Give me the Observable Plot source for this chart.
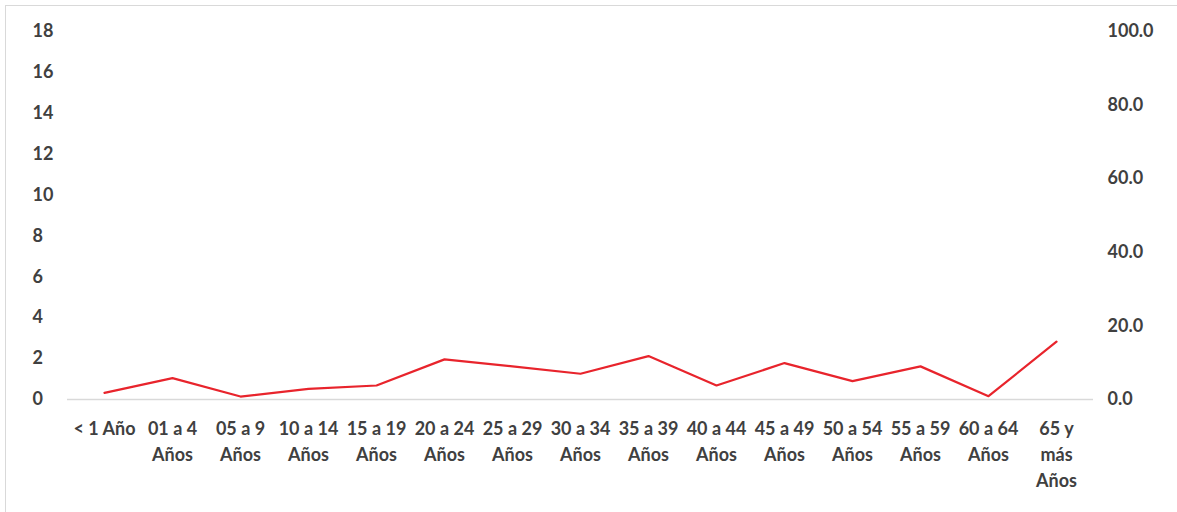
<!DOCTYPE html>
<html>
<head>
<meta charset="utf-8">
<script src="https://cdn.jsdelivr.net/npm/d3@7"></script>
<script src="https://cdn.jsdelivr.net/npm/@observablehq/plot@0.6"></script>
<style>
  html, body { margin: 0; padding: 0; background: #fff; }
  #frame { position: absolute; left: 5px; top: 5px; width: 1172px; height: 507px;
           border-top: 1px solid #d9d9d9; border-left: 1px solid #d9d9d9; }
  #chart { position: absolute; left: 0; top: 0; }
</style>
</head>
<body>
<div id="frame"></div>
<div id="chart"></div>
<script>
const categories = ["< 1 Año","01 a 4 Años","05 a 9 Años","10 a 14 Años","15 a 19 Años","20 a 24 Años","25 a 29 Años","30 a 34 Años","35 a 39 Años","40 a 44 Años","45 a 49 Años","50 a 54 Años","55 a 59 Años","60 a 64 Años","65 y más Años"];
const tickLabels = ["< 1 Año","01 a 4\nAños","05 a 9\nAños","10 a 14\nAños","15 a 19\nAños","20 a 24\nAños","25 a 29\nAños","30 a 34\nAños","35 a 39\nAños","40 a 44\nAños","45 a 49\nAños","50 a 54\nAños","55 a 59\nAños","60 a 64\nAños","65 y\nmás\nAños"];
const rates = [1.8, 5.8, 0.8, 2.9, 3.8, 10.9, 9.0, 7.0, 11.8, 3.8, 9.9, 5.0, 9.0, 0.9, 15.7];
const leftTicks = [0, 2, 4, 6, 8, 10, 12, 14, 16, 18];
const rightTicks = [0, 20, 40, 60, 80, 100];
const leftMax = 18;
const rightMax = 100;

const data = categories.map((c, i) => ({category: c, rate: rates[i]}));
const labelOf = new Map(categories.map((c, i) => [c, tickLabels[i]]));
const toRight = v => v * rightMax / leftMax;

const font = "Lato, 'Open Sans', sans-serif";
const textColor = "#404040";

const chart = Plot.plot({
  width: 1177,
  height: 512,
  marginTop: 31,
  marginBottom: 113,
  marginLeft: 67,
  marginRight: 84,
  style: {fontFamily: font, fontSize: "18px", fontWeight: "bold", color: textColor, background: "transparent"},
  x: {type: "point", domain: categories, padding: 0.5},
  y: {domain: [0, rightMax]},
  marks: [
    Plot.ruleY([0], {stroke: "#d9d9d9", strokeWidth: 1.5}),
    Plot.axisX({tickSize: 0, tickPadding: 17, lineAnchor: "top", lineHeight: 1.45,
                tickFormat: d => labelOf.get(d), label: null, fill: textColor}),
    Plot.axisY(leftTicks.map(toRight), {anchor: "left", tickSize: 0, tickPadding: 0,
                textAnchor: "start", dx: -35, tickFormat: d => String(Math.round(d * leftMax / rightMax)),
                label: null, fill: textColor}),
    Plot.axisY(rightTicks, {anchor: "right", tickSize: 0, tickPadding: 14,
                tickFormat: d => d.toFixed(1), label: null, fill: textColor}),
    Plot.line(data, {x: "category", y: "rate", stroke: "#e8242c", strokeWidth: 2.2})
  ]
});
document.getElementById("chart").appendChild(chart);
</script>
</body>
</html>
